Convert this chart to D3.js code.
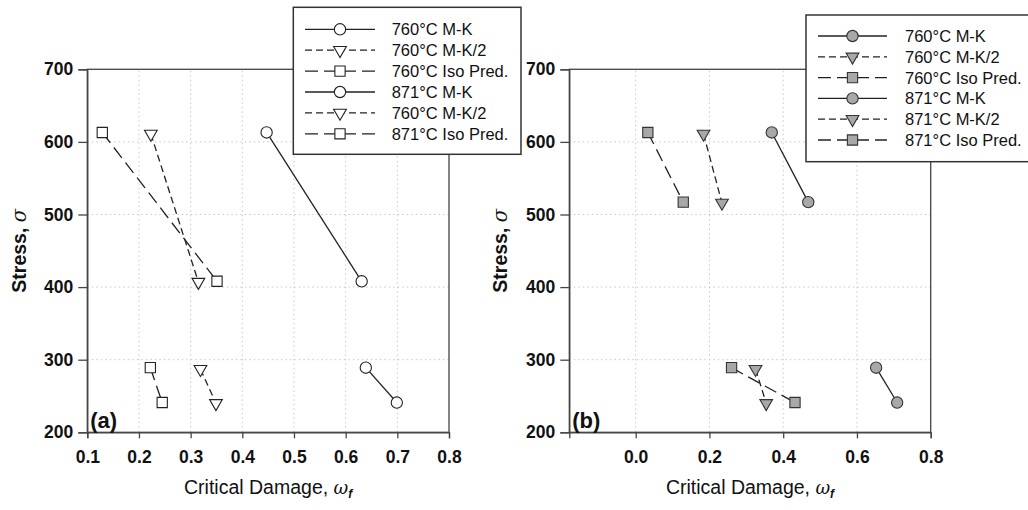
<!DOCTYPE html>
<html><head><meta charset="utf-8">
<script src="https://cdn.jsdelivr.net/npm/d3@7/dist/d3.min.js"></script>
<style>body{margin:0;background:#fff}svg{display:block}text{font-family:"Liberation Sans",Arial,sans-serif}</style>
</head><body>
<svg id="c" width="1028" height="510"></svg>
<script>
// ---- data ----
const xTicksA = [0.1,0.2,0.3,0.4,0.5,0.6,0.7,0.8];
const xTicksB = [0.0,0.2,0.4,0.6,0.8];
const yTicks = [200,300,400,500,600,700];
const legendA = ["760°C M-K","760°C M-K/2","760°C Iso Pred.","871°C M-K","760°C M-K/2","871°C Iso Pred."];
const legendB = ["760°C M-K","760°C M-K/2","760°C Iso Pred.","871°C M-K","871°C M-K/2","871°C Iso Pred."];
const seriesKinds = ["MK","MK2","Iso","MK","MK2","Iso"];
// panel (a): [critical damage, stress]
const a760MK  = [[0.447,613],[0.631,408]];
const a760MK2 = [[0.223,611],[0.315,407]];
const a760Iso = [[0.129,613],[0.351,408]];
const a871MK  = [[0.639,289],[0.699,241]];
const a871MK2 = [[0.319,287],[0.349,240]];
const a871Iso = [[0.222,289],[0.245,241]];
// panel (b)
const b760MK  = [[0.369,613],[0.468,517]];
const b760MK2 = [[0.184,611],[0.234,516]];
const b760Iso = [[0.033,613],[0.129,517]];
const b871MK  = [[0.652,289],[0.709,241]];
const b871MK2 = [[0.325,287],[0.354,240]];
const b871Iso = [[0.260,289],[0.432,241]];

const svg = d3.select("#c");
const dash = {MK:null, MK2:"7,4", Iso:"13,6"};
const sym = {MK:d3.symbolCircle, MK2:d3.symbolTriangle, Iso:d3.symbolSquare};
const symSize = {MK:100, MK2:70, Iso:105};

function marker(g, kind, x, y, fill, stroke){
  const s = g.append("path").attr("d", d3.symbol().type(sym[kind]).size(symSize[kind])())
    .attr("fill", fill).attr("stroke", stroke).attr("stroke-width", 1.1);
  if(kind==="MK2") s.attr("transform", `translate(${x},${y}) rotate(180)`);
  else s.attr("transform", `translate(${x},${y})`);
}

function panel(cfg){
  const g = svg.append("g");
  const x = d3.scaleLinear().domain(cfg.xDomain).range([cfg.left, cfg.right]);
  const y = d3.scaleLinear().domain([200,700]).range([432.3, 69.3]);
  // grid
  g.selectAll(".gx").data(cfg.xTicks.filter(t=>x(t)>cfg.left+2 && x(t)<cfg.right-2)).enter().append("line")
    .attr("x1",d=>x(d)).attr("x2",d=>x(d)).attr("y1",y(200)).attr("y2",y(700))
    .attr("stroke","#c8c8c8").attr("stroke-width",1).attr("stroke-dasharray","1.5,3");
  g.selectAll(".gy").data(yTicks.filter(t=>t>200&&t<700)).enter().append("line")
    .attr("x1",cfg.left).attr("x2",cfg.right).attr("y1",d=>y(d)).attr("y2",d=>y(d))
    .attr("stroke","#c8c8c8").attr("stroke-width",1).attr("stroke-dasharray","1.5,3");
  // frame
  g.append("rect").attr("x",cfg.left).attr("y",y(700)).attr("width",cfg.right-cfg.left).attr("height",y(200)-y(700))
    .attr("fill","none").attr("stroke","#444").attr("stroke-width",1.3);
  // axes
  const ax = g.append("g").attr("transform",`translate(0,${y(200)})`)
    .call(d3.axisBottom(x).tickValues(cfg.xTicks).tickSize(6).tickPadding(8).tickFormat(d3.format(".1f")));
  const ay = g.append("g").attr("transform",`translate(${cfg.left},0)`)
    .call(d3.axisLeft(y).tickValues(yTicks).tickSize(9).tickPadding(5).tickFormat(d3.format("d")));
  [ax,ay].forEach(a=>{
    a.select(".domain").attr("stroke","#444").attr("stroke-width",1.3);
    a.selectAll(".tick line").attr("stroke","#444").attr("stroke-width",1.3);
    a.selectAll(".tick text").attr("fill","#111").attr("font-size","17.5px").attr("font-weight","bold")
      .attr("font-family",'"Liberation Sans",Arial,sans-serif');
  });
  ax.selectAll(".tick text").attr("dy","0.95em");
  // series
  const line = d3.line().x(d=>x(d[0])).y(d=>y(d[1]));
  cfg.series.forEach((s,i)=>{
    const k = seriesKinds[i];
    g.append("path").attr("d",line(s)).attr("fill","none").attr("stroke","#222").attr("stroke-width",1.3)
      .attr("stroke-dasharray",dash[k]);
  });
  cfg.series.forEach((s,i)=>{
    const k = seriesKinds[i];
    s.forEach(p=>marker(g,k,x(p[0]),y(p[1]),cfg.fill,cfg.mstroke));
  });
  // panel letter
  g.append("text").attr("x",cfg.left+3).attr("y",428).attr("font-size","22px").attr("font-weight","bold")
    .attr("fill","#111").text(cfg.letter);
  // axis titles
  const cx = (cfg.left+cfg.right)/2;
  const xt = g.append("text").attr("x",cx).attr("y",494).attr("text-anchor","middle")
    .attr("font-size","19.5px").attr("fill","#111");
  xt.append("tspan").text("Critical Damage, ");
  xt.append("tspan").attr("font-style","italic").attr("font-family",'"DejaVu Serif",serif').attr("font-size","18px").text("ω");
  xt.append("tspan").attr("font-style","italic").attr("font-weight","bold").attr("font-size","12px").attr("dy","4").text("f");
  const yt = g.append("text").attr("transform",`translate(${cfg.ytx},250.8) rotate(-90)`).attr("text-anchor","middle")
    .attr("font-size","19.5px").attr("font-weight","bold").attr("fill","#111");
  yt.append("tspan").text("Stress, ");
  yt.append("tspan").attr("font-style","italic").attr("font-weight","normal").attr("font-family",'"DejaVu Serif",serif').text("σ");
  return g;
}

function legend(cfg){
  const g = svg.append("g");
  g.append("rect").attr("x",cfg.x0).attr("y",cfg.y0).attr("width",cfg.x1-cfg.x0).attr("height",cfg.y1-cfg.y0)
    .attr("fill","#fff").attr("stroke","#333").attr("stroke-width",1.5);
  cfg.labels.forEach((lab,i)=>{
    const k = seriesKinds[i];
    const yy = cfg.row0 + i*cfg.step;
    g.append("line").attr("x1",cfg.lx0).attr("x2",cfg.lx1).attr("y1",yy).attr("y2",yy)
      .attr("stroke","#222").attr("stroke-width",1.3).attr("stroke-dasharray",dash[k]);
    marker(g,k,(cfg.lx0+cfg.lx1)/2,yy,cfg.fill,cfg.mstroke);
    g.append("text").attr("x",cfg.tx).attr("y",yy+6).attr("font-size","16.5px").attr("fill","#111").text(lab);
  });
}

panel({xDomain:[0.1,0.8], left:87.3, right:449, xTicks:xTicksA, letter:"(a)", ytx:26,
  series:[a760MK,a760MK2,a760Iso,a871MK,a871MK2,a871Iso], fill:"#fff", mstroke:"#222"});
panel({xDomain:[-0.18,0.8], left:569.3, right:930.7, xTicks:xTicksB, letter:"(b)", ytx:507,
  series:[b760MK,b760MK2,b760Iso,b871MK,b871MK2,b871Iso], fill:"#a8a8a8", mstroke:"#333"});
legend({x0:293.3,y0:7.3,x1:521,y1:154.3,row0:29.3,step:20.9,lx0:305,lx1:375,tx:391.7,labels:legendA,fill:"#fff",mstroke:"#222"});
legend({x0:806,y0:15,x1:1040,y1:161.7,row0:36,step:20.8,lx0:818,lx1:887,tx:905,labels:legendB,fill:"#a8a8a8",mstroke:"#333"});
</script>
</body></html>
